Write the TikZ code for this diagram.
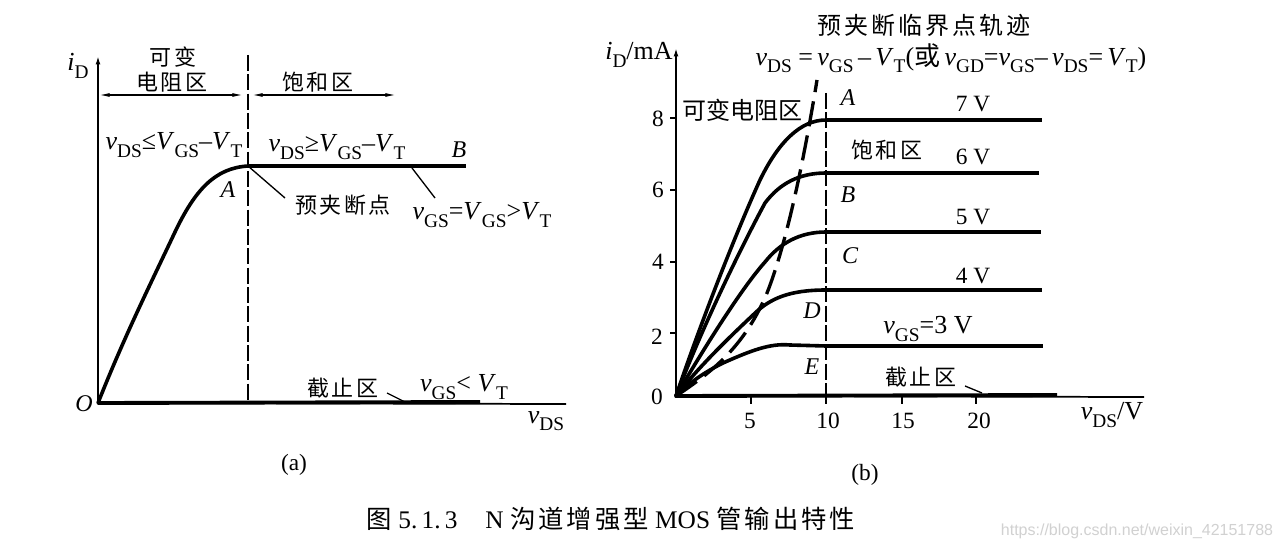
\documentclass[tikz,border=0pt]{standalone}
\usepackage{fontspec}
\setmainfont{Liberation Serif}
\newfontfamily\cjk{Noto Sans CJK SC}
\newfontfamily\cjkw[LetterSpace=12]{Noto Sans CJK SC}
\newfontfamily\sansf{Liberation Sans}
\newcommand{\sbs}[1]{\raisebox{-0.28em}{\fontsize{14.5}{15}\selectfont #1}}
\newcommand{\vds}{\textit{v}\sbs{DS}}
\newcommand{\vgs}{\textit{v}\sbs{GS}}
\newcommand{\vgd}{\textit{v}\sbs{GD}}
\newcommand{\VGS}{\textit{V}\sbs{GS}}
\newcommand{\VT}{\textit{V}\sbs{T}}
\usetikzlibrary{arrows.meta}
\tikzset{
  x=0.75pt,y=-0.75pt,
  lbl/.style={inner sep=0pt,font=\fontsize{17.5}{19}\selectfont},
  fm/.style={inner sep=0pt,font=\fontsize{19.5}{21}\selectfont},
  itl/.style={inner sep=0pt,font=\fontsize{18}{20}\selectfont\itshape},
  cn/.style={inner sep=0pt,font=\fontsize{16.5}{18}\selectfont\cjkw},
  cnt/.style={inner sep=0pt,font=\fontsize{18}{20}\selectfont\cjk},
  caps/.style={inner sep=0pt,font=\fontsize{19}{21}\selectfont},
  axis/.style={line width=1.5pt,-{Latex[length=7pt,width=3.5pt]}},
  curve/.style={line width=2.7pt,line cap=round},
  flat/.style={line width=2.9pt},
  thin1/.style={line width=1pt},
  dash1/.style={line width=1.5pt,dash pattern=on 12pt off 2.5pt},
  dash2/.style={line width=2.5pt,dash pattern=on 19pt off 7pt},
  tick1/.style={line width=1.3pt}
}
\begin{document}
\begin{tikzpicture}
\useasboundingbox (0,0) rectangle (1280,552);
\fill[white] (0,0) rectangle (1280,552);
% coordinates, panel a
\coordinate (ao) at (98,403);
\coordinate (ay) at (98,55);
\coordinate (ax) at (566,404);
\coordinate (aA) at (248,166);
\coordinate (aB) at (466,166);
\coordinate (acut) at (480,402);
\coordinate (adt) at (248,55);
\coordinate (adb) at (248,402);
\draw[axis] (ao) -- (ay);
\draw[line width=1.3pt] (ao) -- (ax);
\draw[flat] (ao) -- (acut);
\draw[dash1] (adt) -- (adb);
\draw[curve] (ao) .. controls (125,335) and (150,285) .. (175,232)
  .. controls (195,190) and (215,168) .. (aA);
\draw[flat] (aA) -- (aB);
\coordinate (ah1) at (99,95); \coordinate (ah2) at (243,95);
\coordinate (ah3) at (252,95); \coordinate (ah4) at (396,95);
\draw[thin1,{Latex[length=8pt,width=3pt]}-{Latex[length=8pt,width=3pt]}] (ah1) -- (ah2);
\draw[thin1,{Latex[length=8pt,width=3pt]}-{Latex[length=8pt,width=3pt]}] (ah3) -- (ah4);
% panel a labels
\node[fm] (aid) at (78,66) {\textit{i}\sbs{D}};
\node[cn] (a1) at (173,57) {可变};
\node[cn] (a2) at (172,82) {电阻区};
\node[cn] (a3) at (318,82) {饱和区};
\node[fm] (a4) at (174,145) {\vds{}≤\VGS{}–\VT};
\node[fm] (a5) at (337,147) {\vds{}≥\VGS{}–\VT};
\node[itl] (aBl) at (459,150) {B};
\node[itl] (aAl) at (228,190) {A};
\node[cn] (a6) at (343,205) {预夹断点};
\node[fm] (a7) at (482,215) {\vgs{}=\VGS{}>\VT};
\node[cn] (a8) at (343,388) {截止区};
\node[fm] (a9) at (464,387) {\vgs{}< \VT};
\node[itl] (aO) at (84,404) {O};
\node[fm] (a10) at (546,421) {\vds};
\node[lbl] (acap) at (294,465) {(a)};
% leaders a
\coordinate (al1) at (285,198); \draw[thin1] (aA) -- (al1);
\coordinate (al2) at (412,168); \coordinate (al3) at (435,198);
\draw[thin1] (al3) -- (al2);
\coordinate (al4) at (387,393); \coordinate (al5) at (405,402);
\draw[thin1] (al4) -- (al5);
% panel b
\coordinate (bo) at (676,396);
\coordinate (by) at (676,47);
\coordinate (bx) at (1144,397);
\coordinate (bcut) at (1057,395);
\draw[axis] (bo) -- (by);
\draw[line width=1.3pt] (bo) -- (bx);
\draw[flat] (bo) -- (bcut);
\foreach \n/\yy in {y8/118,y6/190,y4/262,y2/333}{
  \coordinate (\n a) at (670,\yy); \coordinate (\n b) at (676,\yy);
  \draw[tick1] (\n a) -- (\n b);}
\foreach \n/\xx in {x5/751,x10/826,x15/902,x20/976}{
  \coordinate (\n a) at (\xx,396); \coordinate (\n b) at (\xx,404);
  \draw[tick1] (\n a) -- (\n b);}
\coordinate (bdt) at (826,93); \coordinate (bdb) at (826,396);
\draw[dash1] (bdt) -- (bdb);
\coordinate (b7) at (826,120); \coordinate (b7e) at (1042,120);
\coordinate (b6) at (826,173); \coordinate (b6e) at (1039,173);
\coordinate (b5) at (826,232); \coordinate (b5e) at (1041,232);
\coordinate (b4) at (826,290); \coordinate (b4e) at (1042,290);
\coordinate (b3) at (826,346); \coordinate (b3e) at (1043,346);
\draw[flat] (b7) -- (b7e);
\draw[flat] (b6) -- (b6e);
\draw[flat] (b5) -- (b5e);
\draw[flat] (b4) -- (b4e);
\draw[flat] (b3) -- (b3e);
\draw[curve] (bo) .. controls (700,325) and (735,235) .. (760,180) .. controls (778,143) and (800,120) .. (b7);
\draw[curve] (bo) .. controls (705,320) and (745,240) .. (765,203) .. controls (780,183) and (800,173) .. (b6);
\draw[curve] (bo) .. controls (700,355) and (740,290) .. (765,262) .. controls (780,243) and (800,232) .. (b5);
\draw[curve] (bo) .. controls (700,365) and (735,332) .. (753,315) .. controls (770,298) and (790,290) .. (b4);
\draw[curve] (bo) .. controls (690,382) and (705,372) .. (723,363) .. controls (750,351) and (770,343) .. (790,345) -- (b3);
\coordinate (bp) at (817,80);
\coordinate (bm) at (767,293);
\draw[dash2] (bo) .. controls (715,370) and (745,345) .. (bm) .. controls (790,235) and (808,135) .. (bp);
% labels b
\node[cnt] (bt) at (924,25) {\cjkw 预夹断临界点轨迹};
\node[fm] (bf) at (951,58) {\vds{} =\,\textit{v}\sbs{GS}\,–\,\VT({\cjk 或}\,\vgd{}=\vgs{}–\,\vds{}=\,\VT)};
\node[fm] (bid) at (639,55) {\textit{i}\sbs{D}/mA};
\node[cnt] (bl1) at (742,110) {可变电阻区};
\node[cn] (bl2) at (887,150) {饱和区};
\node[cn] (bl3) at (921,377) {截止区};
\node[itl] (lA) at (848,98) {A};
\node[itl] (lB) at (848,195) {B};
\node[itl] (lC) at (850,256) {C};
\node[itl] (lD) at (812,311) {D};
\node[itl] (lE) at (812,367) {E};
\node[lbl] (v7) at (973,104) {7 V};
\node[lbl] (v6) at (973,157) {6 V};
\node[lbl] (v5) at (973,217) {5 V};
\node[lbl] (v4) at (973,276) {4 V};
\node[fm] (v3) at (928,329) {\vgs{}=3 V};
\node[lbl] (t8) at (658,119) {8};
\node[lbl] (t6) at (658,190) {6};
\node[lbl] (t4) at (658,262) {4};
\node[lbl] (t2) at (657,337) {2};
\node[lbl] (t0) at (657,397) {0};
\node[lbl] (t5) at (750,421) {5};
\node[lbl] (t10) at (828,421) {10};
\node[lbl] (t15) at (903,421) {15};
\node[lbl] (t20) at (979,421) {20};
\node[fm] (bvx) at (1112,415) {\vds{}/V};
\node[lbl] (bcap) at (865,475) {(b)};
\coordinate (bl4) at (965,386); \coordinate (bl5) at (982,393);
\draw[thin1] (bl4) -- (bl5);
% caption
\node[caps] (cap) at (611,519) {{\cjk 图} 5.\,1.\,3\hspace{1.1em}N {\cjkw 沟道增强型} MOS {\cjkw 管输出特性}};
\node[inner sep=0pt,text=black!18,font=\fontsize{12}{14}\selectfont\sansf] (wm) at (1137,531) {https://blog.csdn.net/weixin\_42151788};
\end{tikzpicture}
\end{document}
